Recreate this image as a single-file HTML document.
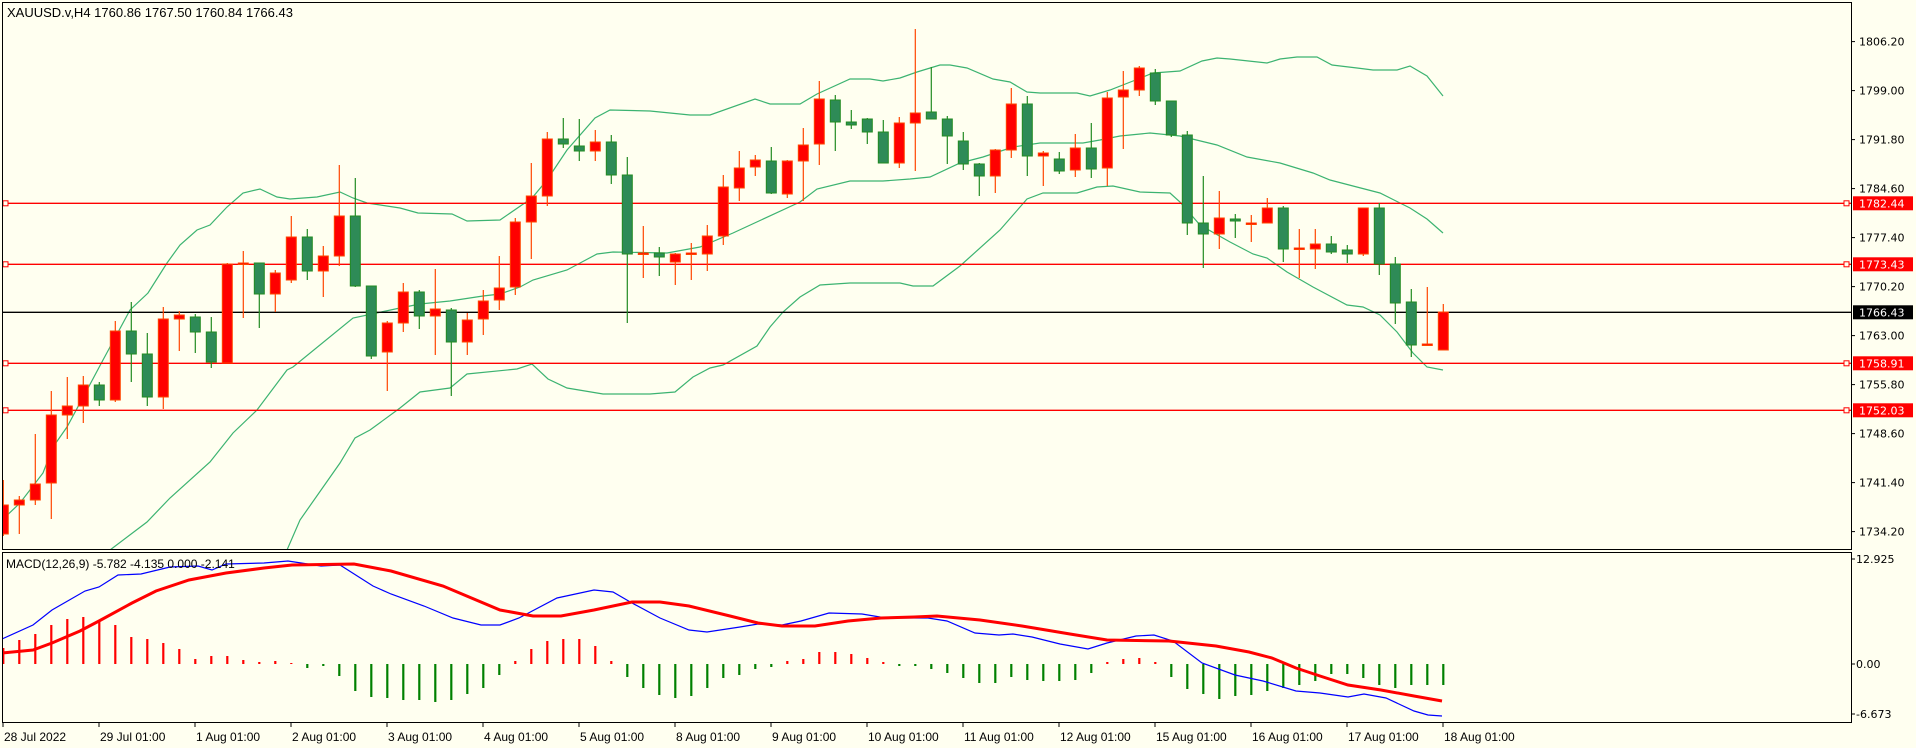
<!DOCTYPE html>
<html><head><meta charset="utf-8"><style>
html,body{margin:0;padding:0;background:#fffff0;width:1916px;height:748px;overflow:hidden}
svg{display:block}
</style></head><body>
<svg id="s" width="1916" height="748" xmlns="http://www.w3.org/2000/svg" font-family="'Liberation Sans',sans-serif">
<rect x="0" y="0" width="1916" height="748" fill="#fffff0"/>
<defs><clipPath id="cm"><rect x="2" y="2" width="1849" height="547"/></clipPath>
<clipPath id="cd"><rect x="2" y="552" width="1849" height="170"/></clipPath></defs>
<g id="main" clip-path="url(#cm)"></g>
<g id="macd" clip-path="url(#cd)"></g>
<rect x="2.5" y="2.5" width="1849" height="547" fill="none" stroke="#000" stroke-width="1"/>
<rect x="2.5" y="552.5" width="1849" height="170" fill="none" stroke="#000" stroke-width="1"/>
<text x="7" y="17" font-size="13" fill="#000">XAUUSD.v,H4  1760.86 1767.50 1760.84 1766.43</text>
<text x="6" y="568" font-size="12" fill="#000">MACD(12,26,9) -5.782 -4.135 0.000 -2.141</text>
<g id="axis" font-family="'DejaVu Sans',sans-serif" font-size="11" fill="#000"></g>
<g id="dates" font-size="12" fill="#000"></g>
</svg>
<script>
var NS="http://www.w3.org/2000/svg";
function el(p,t,a,txt){var e=document.createElementNS(NS,t);for(var k in a)e.setAttribute(k,a[k]);if(txt!=null)e.textContent=txt;p.appendChild(e);return e;}
var M=document.getElementById('main'),D=document.getElementById('macd'),A=document.getElementById('axis'),DT=document.getElementById('dates');
function pl(p,pts,c,w){el(p,'polyline',{points:pts.map(function(q){return q.join(',')}).join(' '),fill:'none',stroke:c,'stroke-width':w});}
// bands
var up=[[0,522],[20,503],[43,473],[53,447],[67,427],[87,390],[103,360],[130,310],[148,293],[167,263],[180,245],[197,230],[210,225],[227,207],[243,193],[260,189],[277,197],[290,199],[317,197],[340,192],[353,198],[367,203],[400,208],[418,213],[452,214],[467,221],[500,220],[532,198],[547,180],[567,150],[595,118],[610,110],[650,111],[690,115],[710,115],[755,99],[770,104],[800,104],[817,94],[850,79],[870,79],[883,81],[900,78],[917,72],[940,65],[950,65],[967,68],[993,79],[1010,82],[1027,92],[1040,93],[1077,93],[1090,96],[1110,90],[1133,81],[1153,73],[1180,71],[1202,61],[1217,58],[1230,59],[1267,63],[1280,59],[1297,57],[1317,57],[1332,65],[1357,68],[1373,70],[1397,70],[1410,66],[1427,76],[1443,96]];
var mid=[[110,550],[147,522],[170,498],[210,462],[233,433],[257,410],[287,370],[293,367],[353,318],[400,308],[420,304],[450,301],[483,296],[500,294],[520,287],[533,280],[567,270],[597,254],[613,252],[667,253],[700,247],[733,233],[800,202],[817,189],[850,181],[883,181],[910,179],[930,177],[960,163],[983,157],[1013,147],[1040,143],[1083,143],[1100,140],[1120,136],[1150,133],[1180,136],[1217,145],[1247,157],[1280,163],[1313,173],[1330,180],[1353,186],[1380,193],[1410,208],[1427,219],[1443,233]];
var lo=[[287,550],[300,520],[340,463],[355,438],[370,430],[400,408],[420,392],[450,388],[467,374],[517,369],[532,364],[548,379],[567,388],[603,394],[650,394],[675,392],[693,377],[710,368],[723,365],[757,346],[770,327],[783,312],[800,297],[820,285],[850,283],[900,283],[913,286],[933,286],[960,266],[1000,230],[1027,199],[1043,193],[1077,193],[1097,187],[1113,186],[1140,192],[1170,193],[1180,202],[1200,225],[1230,242],[1253,254],[1267,258],[1287,272],[1313,287],[1347,305],[1363,307],[1380,315],[1397,332],[1413,353],[1427,367],[1443,370]];
[up,mid,lo].forEach(function(b){pl(M,b,'#3cb371',1.2);});
// horizontal lines
[[203.3,'#ff0000'],[264.3,'#ff0000'],[363.3,'#ff0000'],[410.3,'#ff0000']].forEach(function(h){
 el(M,'line',{x1:2,x2:1851,y1:h[0],y2:h[0],stroke:h[1],'stroke-width':1.3});
 el(M,'rect',{x:3,y:h[0]-2.5,width:5,height:5,fill:'#fffff0',stroke:'#ff0000','stroke-width':1});
 el(M,'rect',{x:1844,y:h[0]-2.5,width:5,height:5,fill:'#fffff0',stroke:'#ff0000','stroke-width':1});
});
el(M,'line',{x1:2,x2:1851,y1:312.3,y2:312.3,stroke:'#000','stroke-width':1.3});
// candles: [bodyTop,bodyBot,wickTop,wickBot,color r/g]
var C=[[505,534,480,536,'r'],[500,505,496,534,'r'],[484,500,434,505,'r'],[415,483,391,519,'r'],[406,415,377,439,'r'],[385,406,376,423,'r'],[385,400,382,406,'g'],[331,400,321,402,'r'],[331,354,302,382,'g'],[354,397,333,406,'g'],
[319,397,307,409,'r'],[315,319,311,351,'r'],[317,332,314,353,'g'],[332,362,317,368,'g'],[264,363,263,363,'r'],[263,264,251,318,'r'],[263,294,263,328,'g'],[273,294,270,312,'r'],[237,280,216,283,'r'],[237,271,229,280,'g'],
[256,271,246,297,'r'],[216,256,165,266,'r'],[216,286,178,287,'g'],[286,356,286,359,'g'],[323,352,321,391,'r'],[292,323,283,332,'r'],[292,316,290,329,'g'],[309,316,269,355,'r'],[310,342,308,396,'g'],[320,342,313,355,'r'],
[301,319,290,335,'r'],[288,300,256,310,'r'],[222,287,218,295,'r'],[196,222,163,259,'r'],[139,196,132,206,'r'],[139,144,118,148,'g'],[146,151,119,161,'g'],[142,151,130,161,'r'],[142,175,135,184,'g'],[175,254,157,323,'g'],
[253,254,226,278,'r'],[253,257,247,276,'g'],[254,262,253,285,'r'],[253,254,243,280,'r'],[236,254,225,271,'r'],[187,236,175,245,'r'],[168,188,151,201,'r'],[160,167,155,176,'r'],[161,193,147,194,'g'],[161,194,160,198,'r'],
[145,161,128,201,'r'],[99,144,81,165,'r'],[100,122,95,151,'g'],[122,125,110,129,'g'],[119,132,118,144,'g'],[132,163,120,163,'g'],[123,163,117,168,'r'],[113,123,29,171,'r'],[112,119,67,119,'g'],[119,136,116,164,'g'],
[141,164,132,170,'g'],[164,176,163,196,'g'],[150,176,149,193,'r'],[104,150,88,158,'r'],[104,156,96,176,'g'],[153,156,151,186,'r'],[159,171,152,174,'g'],[148,170,134,177,'r'],[148,169,123,178,'g'],[98,168,92,186,'r'],
[90,97,71,149,'r'],[68,90,66,96,'r'],[73,101,69,105,'g'],[101,135,101,137,'g'],[135,223,131,235,'g'],[223,234,176,268,'g'],[218,234,191,249,'r'],[219,221,214,238,'g'],[223,224,215,242,'r'],[208,223,198,223,'r'],
[208,249,206,262,'g'],[248,249,229,278,'r'],[244,249,229,269,'r'],[244,252,236,254,'g'],[250,254,245,263,'g'],[208,254,208,256,'r'],[208,264,203,275,'g'],[264,303,257,324,'g'],[302,345,289,357,'g'],[344,345,287,345,'r'],[312,350,304,350,'r']];
C.forEach(function(c,k){var x=3.3+16*k;var red=c[4]=='r';var ws=red?'#ff4500':'#228b22';var f=red?'#ff0000':'#2e8b57';
 el(M,'line',{x1:x,x2:x,y1:c[2],y2:c[3],stroke:ws,'stroke-width':1.2});
 var h=Math.max(c[1]-c[0],1.5);
 el(M,'rect',{x:x-5,y:c[0],width:10,height:h,fill:f,stroke:ws,'stroke-width':1});
});
// MACD histogram
var H=[648,640,634,625,619,617,620,625,637,639,643,649,659,656,656,660,662,661,663,668,666,676,691,697,698,700,700,702,700,694,688,675,661,649,641,639,639,646,661,677,688,695,698,696,688,678,675,
669,667,661,659,652,652,654,658,662,666,666,669,673,678,683,683,677,680,681,681,680,673,662,659,658,662,677,689,694,699,696,695,691,688,685,681,674,674,678,685,688,685,685,685];
H.forEach(function(v,k){var x=3.3+16*k;var z=664;var red=v<z;
 el(D,'line',{x1:x,x2:x,y1:Math.min(v,z),y2:Math.max(v,z)+(Math.abs(v-z)<1?1:0),stroke:red?'#ff0000':'#008000','stroke-width':2.2});});
var blue=[[2,639],[33,625],[52,610],[85,591],[99,587],[118,575],[141,574],[170,567],[198,566],[212,570],[226,564],[264,563],[288,561],[321,566],[340,565],[373,586],[391,594],[424,606],[453,618],[481,625],[500,625],[519,618],[557,598],[594,590],[613,592],[632,603],[660,618],[689,630],[707,632],[740,627],[758,624],[782,625],[801,621],[829,613],[862,614],[886,618],[928,618],[947,621],[975,633],[999,635],[1013,634],[1032,637],[1060,644],[1088,649],[1107,643],[1136,636],[1154,635],[1173,641],[1202,663],[1235,675],[1263,681],[1296,691],[1320,693],[1348,697],[1364,694],[1386,698],[1414,711],[1428,715],[1442,716]];
var sig=[[2,653],[33,650],[52,643],[80,631],[99,621],[132,603],[156,591],[189,580],[226,573],[264,568],[292,565],[354,564],[391,571],[443,586],[500,610],[533,616],[561,616],[594,610],[632,602],[660,602],[689,606],[730,616],[758,623],[782,626],[815,626],[848,621],[881,618],[914,617],[937,616],[980,620],[1022,626],[1070,634],[1107,640],[1169,641],[1216,646],[1249,652],[1272,658],[1296,668],[1320,676],[1348,685],[1381,690],[1414,696],[1442,701]];
pl(D,blue,'#0000ff',1.2);
pl(D,sig,'#ff0000',3);
// axis
var P=[['1806.20',41.6],['1799.00',90.6],['1791.80',139.6],['1784.60',188.6],['1777.40',237.6],['1770.20',286.6],['1763.00',335.6],['1755.80',384.6],['1748.60',433.6],['1741.40',482.6],['1734.20',531.6]];
P.forEach(function(p){el(A,'line',{x1:1851,x2:1855,y1:p[1],y2:p[1],stroke:'#000'});el(A,'text',{x:1859,y:p[1]+4},p[0]);});
[['1782.44',203.3,'#ff0000'],['1773.43',264.3,'#ff0000'],['1766.43',312.3,'#000000'],['1758.91',363.3,'#ff0000'],['1752.03',410.3,'#ff0000']].forEach(function(p){
 el(A,'rect',{x:1853,y:p[1]-7,width:60,height:14,fill:p[2]});el(A,'text',{x:1859,y:p[1]+4,fill:'#fff'},p[0]);});
[['12.925',559],['0.00',664],['-6.673',714]].forEach(function(p){el(A,'line',{x1:1851,x2:1855,y1:p[1],y2:p[1],stroke:'#000'});el(A,'text',{x:1856,y:p[1]+4},p[0]);});
var dates=['28 Jul 2022','29 Jul 01:00','1 Aug 01:00','2 Aug 01:00','3 Aug 01:00','4 Aug 01:00','5 Aug 01:00','8 Aug 01:00','9 Aug 01:00','10 Aug 01:00','11 Aug 01:00','12 Aug 01:00','15 Aug 01:00','16 Aug 01:00','17 Aug 01:00','18 Aug 01:00'];
dates.forEach(function(d,i){var x=3+96*i;el(DT,'line',{x1:x,x2:x,y1:722,y2:727,stroke:'#000'});el(DT,'text',{x:x+1,y:741},d);});
</script>
</body></html>
